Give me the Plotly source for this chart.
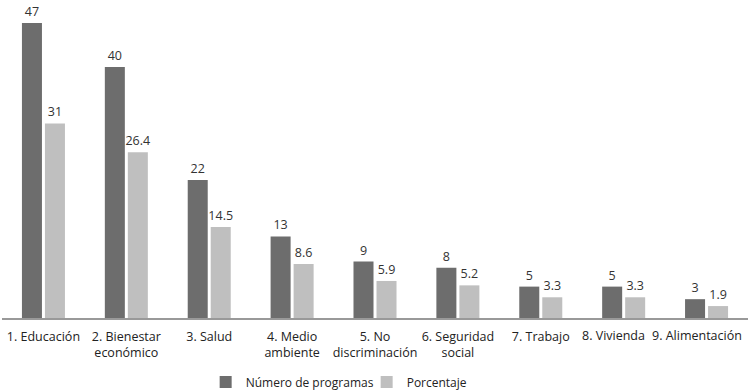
import plotly.graph_objects as go

categories = ["1. Educación", "2. Bienestar<br>económico", "3. Salud", "4. Medio<br>ambiente",
              "5. No<br>discriminación", "6. Seguridad<br>social", "7. Trabajo", "8. Vivienda",
              "9. Alimentación"]
programas = [47, 40, 22, 13, 9, 8, 5, 5, 3]
porcentaje = [31, 26.4, 14.5, 8.6, 5.9, 5.2, 3.3, 3.3, 1.9]
series_names = ["Número de programas", "Porcentaje"]

# last two labels are drawn slightly left of their bar groups, as in the reference
n_shifted = 2
tick_labels = categories[:-n_shifted] + [""] * n_shifted

font_family = "Open Sans, Noto Sans, sans-serif"

fig = go.Figure()
fig.add_trace(go.Bar(
    x=categories, y=programas, name=series_names[0],
    marker=dict(color="#6d6d6d", line=dict(width=0)),
    text=[str(v) for v in programas], textposition="outside", constraintext="none",
    textfont=dict(size=12.5, color="#333333", family=font_family),
    cliponaxis=False,
))
fig.add_trace(go.Bar(
    x=categories, y=porcentaje, name=series_names[1],
    marker=dict(color="#bfbfbf", line=dict(width=0)),
    text=[str(v) for v in porcentaje], textposition="outside", constraintext="none",
    textfont=dict(size=12.5, color="#333333", family=font_family),
    cliponaxis=False,
))

for cat in categories[-n_shifted:]:
    fig.add_annotation(x=cat, xref="x", y=0, yref="paper", text=cat, showarrow=False,
                       xanchor="center", yanchor="top", xshift=-10, yshift=-7,
                       font=dict(size=12.5, color="#222222", family=font_family))

fig.update_layout(
    width=748, height=392,
    margin=dict(l=2, r=0, t=0, b=74, autoexpand=False),
    plot_bgcolor="white", paper_bgcolor="white",
    barmode="group", bargap=0.445, bargroupgap=0.13,
    font=dict(family=font_family, size=12, color="#222222"),
    showlegend=True,
    legend=dict(orientation="h", x=0.273, xanchor="left", y=-0.201, yanchor="middle",
                font=dict(size=12, color="#222222"), traceorder="normal",
                entrywidth=116, entrywidthmode="pixels"),
    xaxis=dict(showline=True, linecolor="#999999", linewidth=1.5,
               ticks="outside", ticklen=6, tickcolor="rgba(0,0,0,0)", tickangle=0,
               tickmode="array", tickvals=categories, ticktext=tick_labels,
               tickfont=dict(size=12.5, color="#222222"), showgrid=False, automargin=False),
    yaxis=dict(range=[0, 50.66], visible=False, showgrid=False, zeroline=False),
)

fig.write_html("out.html", config={"displayModeBar": False},
               post_script="document.body.style.margin='0';")
